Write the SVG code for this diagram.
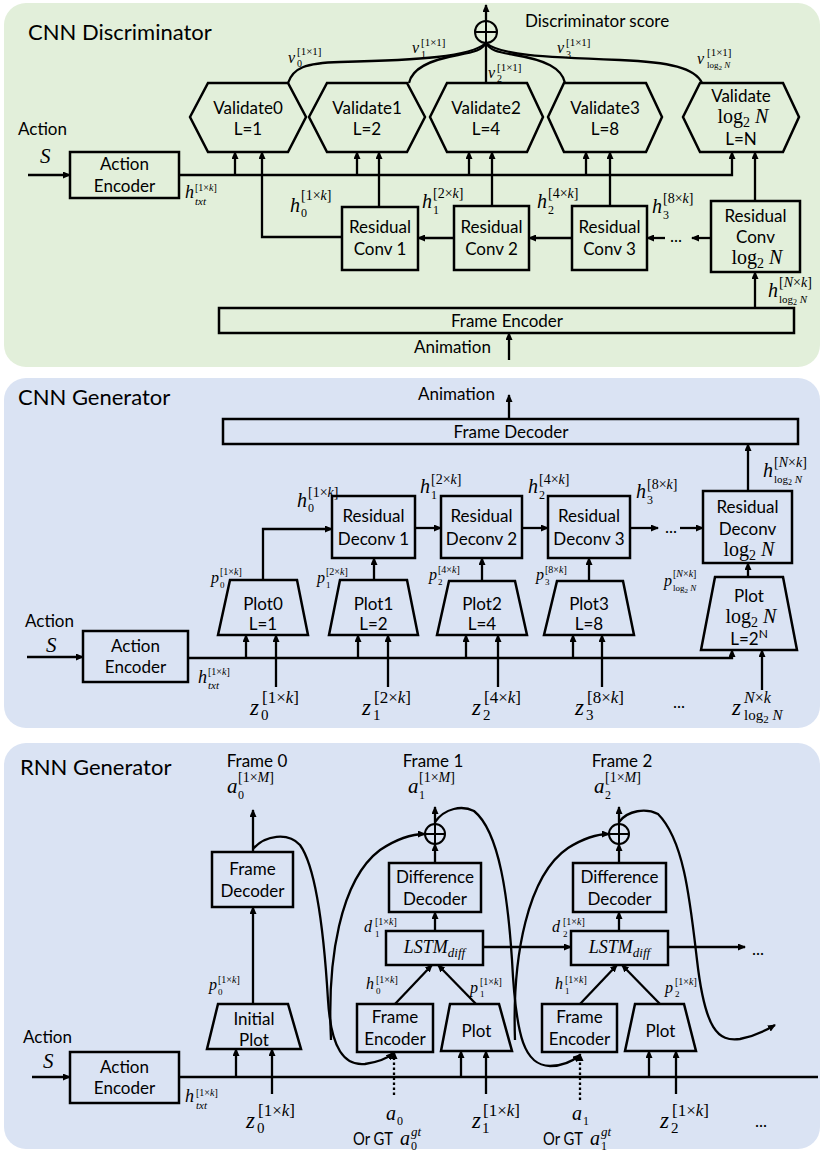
<svg xmlns="http://www.w3.org/2000/svg" width="823" height="1151" viewBox="0 0 823 1151">
<defs>
<style>
.pg{fill:#e2efda}
.pb{fill:#dae3f3}
.box{fill:none;stroke:#000;stroke-width:2.5}
.c{fill:none;stroke:#000;stroke-width:2.3}
.ar{marker-end:url(#ah)}
.dot{stroke-dasharray:2.5,2.5}
.t{font-family:Lato,"Liberation Sans",sans-serif;font-size:17px;text-anchor:middle;fill:#000}
.ts{font-family:Lato,"Liberation Sans",sans-serif;font-size:17px;fill:#000}
.ttl{font-family:Lato,"Liberation Sans",sans-serif;font-size:22px;fill:#000}
.m{font-family:"Liberation Serif",serif;font-style:italic;fill:#000}
.u{font-style:normal}
.lg{font-family:"Liberation Serif",serif;font-size:20px;text-anchor:middle;fill:#000}
</style>
<marker id="ah" viewBox="0 0 8 7" refX="7" refY="3.5" markerWidth="8" markerHeight="7" markerUnits="userSpaceOnUse" orient="auto"><path d="M0,0 L8,3.5 L0,7 z" fill="#000"/></marker>
</defs>

<!-- Panels -->
<rect class="pg" x="4" y="3" width="816" height="364" rx="22"/>
<rect class="pb" x="4" y="378" width="816" height="350" rx="22"/>
<rect class="pb" x="4" y="743" width="816" height="406" rx="22"/>
<text class="ttl" x="28" y="40">CNN Discriminator</text>
<text class="ttl" x="18" y="405">CNN Generator</text>
<text class="ttl" x="20" y="775">RNN Generator</text>

<!-- ===== Panel 1: CNN Discriminator ===== -->
<g id="d-sum">
<circle cx="486" cy="32" r="11" fill="none" stroke="#000" stroke-width="2"/>
<path d="M476,32 H496 M486,22 V42" stroke="#000" stroke-width="2"/>
<text class="ts" x="525" y="27" font-size="16">Discriminator score</text>
</g>
<g id="d-validate0"><polygon class="box" points="190,117 208,83 288,83 306,117 288,152 208,152"/><text class="t" x="248" y="114">Validate0</text><text class="t" x="248" y="135">L=1</text></g>
<g id="d-validate1"><polygon class="box" points="309,117 327,83 407,83 425,117 407,152 327,152"/><text class="t" x="367" y="114">Validate1</text><text class="t" x="367" y="135">L=2</text></g>
<g id="d-validate2"><polygon class="box" points="430,117 447,83 527,83 543,117 527,152 447,152"/><text class="t" x="486" y="114">Validate2</text><text class="t" x="486" y="135">L=4</text></g>
<g id="d-validate3"><polygon class="box" points="548,117 564,83 646,83 662,117 646,152 564,152"/><text class="t" x="605" y="114">Validate3</text><text class="t" x="605" y="135">L=8</text></g>
<g id="d-validateN"><polygon class="box" points="683,117 700,83 783,83 799,117 783,152 700,152"/><text class="t" x="741" y="102">Validate</text><text class="lg" x="743" y="123">log<tspan font-size="14" dy="4">2</tspan><tspan dy="-4" font-style="italic"> N</tspan></text><text class="t" x="741" y="145">L=N</text></g>
<g id="d-action-encoder"><rect class="box" x="70" y="152" width="109" height="46"/><text class="t" x="124.5" y="170">Action</text><text class="t" x="124.5" y="192">Encoder</text></g>
<g id="d-res1"><rect class="box" x="342" y="207" width="76" height="63"/><text class="t" x="380" y="233">Residual</text><text class="t" x="380" y="255">Conv 1</text></g>
<g id="d-res2"><rect class="box" x="454" y="206" width="75" height="64"/><text class="t" x="491.5" y="233">Residual</text><text class="t" x="491.5" y="255">Conv 2</text></g>
<g id="d-res3"><rect class="box" x="572" y="206" width="75" height="64"/><text class="t" x="609.5" y="233">Residual</text><text class="t" x="609.5" y="255">Conv 3</text></g>
<g id="d-resN"><rect class="box" x="711" y="201" width="89" height="71"/><text class="t" x="755.5" y="222">Residual</text><text class="t" x="755.5" y="243">Conv</text><text class="lg" x="757" y="264">log<tspan font-size="14" dy="4">2</tspan><tspan dy="-4" font-style="italic"> N</tspan></text></g>
<g id="d-frame-encoder"><rect class="box" x="219" y="308" width="575" height="25"/><text class="t" x="507" y="327">Frame Encoder</text></g>

<!-- ===== Panel 2: CNN Generator ===== -->
<g id="g-frame-decoder"><rect class="box" x="223" y="419" width="575" height="25"/><text class="t" x="511" y="438">Frame Decoder</text></g>
<g id="g-deconv1"><rect class="box" x="332" y="496" width="83" height="62"/><text class="t" x="373.5" y="522">Residual</text><text class="t" x="373.5" y="545">Deconv 1</text></g>
<g id="g-deconv2"><rect class="box" x="441" y="496" width="81" height="62"/><text class="t" x="481.5" y="522">Residual</text><text class="t" x="481.5" y="545">Deconv 2</text></g>
<g id="g-deconv3"><rect class="box" x="548" y="496" width="82" height="62"/><text class="t" x="589" y="522">Residual</text><text class="t" x="589" y="545">Deconv 3</text></g>
<g id="g-deconvN"><rect class="box" x="703" y="491" width="89" height="72"/><text class="t" x="747.5" y="513">Residual</text><text class="t" x="747.5" y="535">Deconv</text><text class="lg" x="749" y="556">log<tspan font-size="14" dy="4">2</tspan><tspan dy="-4" font-style="italic"> N</tspan></text></g>
<g id="g-plot0"><polygon class="box" points="230,580 297,580 308,635 218,635"/><text class="t" x="263" y="610">Plot0</text><text class="t" x="263" y="630">L=1</text></g>
<g id="g-plot1"><polygon class="box" points="340,580 407,580 418,635 329,635"/><text class="t" x="373.5" y="610">Plot1</text><text class="t" x="373.5" y="630">L=2</text></g>
<g id="g-plot2"><polygon class="box" points="449,581 515,581 527,635 437,635"/><text class="t" x="482" y="610">Plot2</text><text class="t" x="482" y="630">L=4</text></g>
<g id="g-plot3"><polygon class="box" points="557,581 623,581 634,635 544,635"/><text class="t" x="589" y="610">Plot3</text><text class="t" x="589" y="630">L=8</text></g>
<g id="g-plotN"><polygon class="box" points="715,577 783,577 797,650 701,650"/><text class="t" x="749" y="602">Plot</text><text class="lg" x="751" y="623">log<tspan font-size="14" dy="4">2</tspan><tspan dy="-4" font-style="italic"> N</tspan></text><text class="t" x="749" y="645">L=2<tspan font-size="12" dy="-7">N</tspan></text></g>
<g id="g-action-encoder"><rect class="box" x="83" y="631" width="105" height="51"/><text class="t" x="135.5" y="652">Action</text><text class="t" x="135.5" y="673">Encoder</text></g>

<!-- ===== Panel 3: RNN Generator ===== -->
<g id="r-frame-decoder"><rect class="box" x="212" y="852" width="81" height="55"/><text class="t" x="252.5" y="875">Frame</text><text class="t" x="252.5" y="897">Decoder</text></g>
<g id="r-initial-plot"><polygon class="box" points="218,1004 288,1004 301,1049 207,1049"/><text class="t" x="254" y="1025">Initial</text><text class="t" x="254" y="1046">Plot</text></g>
<g id="r-sum1"><circle cx="435" cy="834" r="10" fill="none" stroke="#000" stroke-width="2"/><path d="M426,834 H444 M435,825 V843" stroke="#000" stroke-width="2"/></g>
<g id="r-sum2"><circle cx="619" cy="834" r="10" fill="none" stroke="#000" stroke-width="2"/><path d="M610,834 H628 M619,825 V843" stroke="#000" stroke-width="2"/></g>
<g id="r-diffdec1"><rect class="box" x="389" y="863" width="92" height="49"/><text class="t" x="435" y="883">Difference</text><text class="t" x="435" y="905">Decoder</text></g>
<g id="r-diffdec2"><rect class="box" x="573" y="863" width="93" height="49"/><text class="t" x="619.5" y="883">Difference</text><text class="t" x="619.5" y="905">Decoder</text></g>
<g id="r-lstm1"><rect class="box" x="386" y="931" width="97" height="34"/><text class="m" x="434.5" y="953" font-size="18" text-anchor="middle">LSTM<tspan font-size="13" dy="4">diff</tspan></text></g>
<g id="r-lstm2"><rect class="box" x="571" y="931" width="97" height="34"/><text class="m" x="619.5" y="953" font-size="18" text-anchor="middle">LSTM<tspan font-size="13" dy="4">diff</tspan></text></g>
<g id="r-frame-encoder1"><rect class="box" x="357" y="1004" width="76" height="48"/><text class="t" x="395" y="1023">Frame</text><text class="t" x="395" y="1045">Encoder</text></g>
<g id="r-frame-encoder2"><rect class="box" x="542" y="1004" width="75" height="48"/><text class="t" x="579.5" y="1023">Frame</text><text class="t" x="579.5" y="1045">Encoder</text></g>
<g id="r-plot1"><polygon class="box" points="450,1004 499,1004 512,1051 441,1051"/><text class="t" x="476.5" y="1037">Plot</text></g>
<g id="r-plot2"><polygon class="box" points="635,1004 684,1004 696,1051 625,1051"/><text class="t" x="660.5" y="1037">Plot</text></g>
<g id="r-action-encoder"><rect class="box" x="70" y="1052" width="109" height="51"/><text class="t" x="124.5" y="1073">Action</text><text class="t" x="124.5" y="1094">Encoder</text></g>

<!-- ===== Connectors ===== -->
<g id="connectors">
<!-- panel 1 -->
<path class="c ar" d="M486,21 V5"/>
<path class="c" d="M288,83 C293,68 305,63 340,62 C420,60 470,57 486,43"/>
<path class="c" d="M409,83 C412,68 430,60 458,55 C475,52 482,50 486,43"/>
<path class="c" d="M486,83 V43"/>
<path class="c" d="M565,83 C562,68 545,60 515,55 C496,52 490,50 486,43"/>
<path class="c" d="M702,83 C695,68 670,62 620,60 C540,57 500,55 486,43"/>
<path class="c ar" d="M28,175 H70"/>
<path class="c ar" d="M179,175 H732 V152"/>
<path class="c ar" d="M235,175 V152"/>
<path class="c ar" d="M357,175 V152"/>
<path class="c ar" d="M469,175 V152"/>
<path class="c ar" d="M586,175 V152"/>
<path class="c ar" d="M342,237 H262 V152"/>
<path class="c ar" d="M379,207 V152"/>
<path class="c ar" d="M492,206 V152"/>
<path class="c ar" d="M610,206 V152"/>
<path class="c ar" d="M755,201 V152"/>
<path class="c ar" d="M454,238 H418"/>
<path class="c ar" d="M572,238 H529"/>
<path class="c ar" d="M665,238 H647"/>
<path class="c ar" d="M711,238 H692"/>
<path class="c ar" d="M755,308 V272"/>
<path class="c ar" d="M509,360 V333"/>
<!-- panel 2 -->
<path class="c ar" d="M509,419 V395"/>
<path class="c ar" d="M263,580 V529 H332"/>
<path class="c ar" d="M415,528 H441"/>
<path class="c ar" d="M522,528 H548"/>
<path class="c ar" d="M630,528 H658"/>
<path class="c ar" d="M680,528 H703"/>
<path class="c ar" d="M748,491 V444"/>
<path class="c ar" d="M374,580 V558"/>
<path class="c ar" d="M482,581 V558"/>
<path class="c ar" d="M589,581 V558"/>
<path class="c ar" d="M748,577 V563"/>
<path class="c ar" d="M27,657 H83"/>
<path class="c ar" d="M188,658 H732 V650"/>
<path class="c ar" d="M246,658 V635"/>
<path class="c ar" d="M358,658 V635"/>
<path class="c ar" d="M466,658 V635"/>
<path class="c ar" d="M573,658 V635"/>
<path class="c ar" d="M276,687 V635"/>
<path class="c ar" d="M388,687 V635"/>
<path class="c ar" d="M498,687 V635"/>
<path class="c ar" d="M602,687 V635"/>
<path class="c ar" d="M762,690 V650"/>
<!-- panel 3 -->
<path class="c ar" d="M253,852 V810"/>
<path class="c ar" d="M253,1004 V907"/>
<path class="c ar" d="M435,824 V807"/>
<path class="c ar" d="M619,824 V807"/>
<path class="c ar" d="M435,863 V844"/>
<path class="c ar" d="M619,863 V844"/>
<path class="c ar" d="M435,931 V912"/>
<path class="c ar" d="M619,931 V912"/>
<path class="c ar" d="M483,947 H571"/>
<path class="c ar" d="M668,947 H745"/>
<path class="c ar" d="M395,1004 L432,965"/>
<path class="c ar" d="M476,1004 L438,965"/>
<path class="c ar" d="M580,1004 L617,965"/>
<path class="c ar" d="M660,1004 L622,965"/>
<path class="c ar" d="M32,1077 H70"/>
<path class="c" d="M179,1077 H818"/>
<path class="c ar" d="M236,1077 V1049"/>
<path class="c ar" d="M461,1077 V1051"/>
<path class="c ar" d="M649,1077 V1051"/>
<path class="c ar" d="M272,1094 V1049"/>
<path class="c ar" d="M486,1094 V1051"/>
<path class="c ar" d="M676,1094 V1051"/>
<path class="c ar dot" d="M394,1095 V1052"/>
<path class="c ar dot" d="M580,1100 V1054"/>
<path class="c ar" d="M253,849 C265,835 288,832 300,845 C318,870 325,950 328,1000 C331,1050 345,1066 365,1064 C378,1062 388,1058 393,1053"/>
<path class="c ar" d="M331,1040 C327,960 340,880 380,850 C398,838 412,834 425,834"/>
<path class="c ar" d="M435,822 C445,808 462,805 474,811 C500,832 508,900 512,960 C516,1040 525,1065 550,1066 C565,1066 574,1060 580,1055"/>
<path class="c ar" d="M515,1040 C512,955 528,875 568,848 C584,838 598,834 609,834"/>
<path class="c ar" d="M619,822 C628,810 646,808 658,814 C684,840 690,900 697,960 C705,1030 718,1042 740,1039 C755,1036 765,1031 775,1025"/>
</g>

<!-- ===== Labels ===== -->
<g id="labels">
<text class="ts" x="18" y="135" font-size="20">Action</text>
<text class="m" x="40" y="163" font-size="21">S</text>
<text class="ts" x="670" y="242">...</text>
<text class="ts" x="414" y="353" font-size="16">Animation</text>
<text class="m" x="288" y="63" font-size="16">v</text><text class="m" x="297" y="55" font-size="11"><tspan class="u">[1×1]</tspan></text><text class="m u" x="297" y="67" font-size="10">0</text>
<text class="m" x="412" y="53" font-size="16">v</text><text class="m" x="421" y="46" font-size="11"><tspan class="u">[1×1]</tspan></text><text class="m u" x="421" y="58" font-size="10">1</text>
<text class="m" x="488" y="78" font-size="16">v</text><text class="m" x="497" y="71" font-size="11"><tspan class="u">[1×1]</tspan></text><text class="m u" x="497" y="82" font-size="10">2</text>
<text class="m" x="557" y="53" font-size="16">v</text><text class="m" x="566" y="46" font-size="11"><tspan class="u">[1×1]</tspan></text><text class="m u" x="566" y="58" font-size="10">3</text>
<text class="m" x="697" y="64" font-size="16">v</text><text class="m" x="707" y="56" font-size="11"><tspan class="u">[1×1]</tspan></text><text class="m" x="707" y="68" font-size="9"><tspan class="u">log</tspan><tspan class="u" font-size="7" dy="2">2</tspan><tspan dy="-2"> N</tspan></text>
<text class="m" x="185" y="198" font-size="18">h</text><text class="m" x="195" y="191" font-size="10"><tspan class="u">[1×</tspan>k<tspan class="u">]</tspan></text><text class="m" x="195" y="205" font-size="11">txt</text>
<text class="m" x="290" y="212" font-size="20">h</text><text class="m" x="301" y="200" font-size="14"><tspan class="u">[1×</tspan>k<tspan class="u">]</tspan></text><text class="m u" x="301" y="217" font-size="12">0</text>
<text class="m" x="422" y="208" font-size="20">h</text><text class="m" x="433" y="198" font-size="14"><tspan class="u">[2×</tspan>k<tspan class="u">]</tspan></text><text class="m u" x="433" y="214" font-size="12">1</text>
<text class="m" x="537" y="208" font-size="20">h</text><text class="m" x="548" y="198" font-size="14"><tspan class="u">[4×</tspan>k<tspan class="u">]</tspan></text><text class="m u" x="548" y="214" font-size="12">2</text>
<text class="m" x="652" y="213" font-size="20">h</text><text class="m" x="663" y="203" font-size="14"><tspan class="u">[8×</tspan>k<tspan class="u">]</tspan></text><text class="m u" x="663" y="219" font-size="12">3</text>
<text class="m" x="768" y="297" font-size="20">h</text><text class="m" x="779" y="287" font-size="14"><tspan class="u">[</tspan>N<tspan class="u">×</tspan>k<tspan class="u">]</tspan></text><text class="m" x="779" y="303" font-size="11"><tspan class="u">log</tspan><tspan class="u" font-size="8" dy="2">2</tspan><tspan dy="-2"> N</tspan></text>

<text class="ts" x="418" y="400" font-size="16">Animation</text>
<text class="ts" x="665" y="533">...</text>
<text class="ts" x="25" y="627" font-size="20">Action</text>
<text class="m" x="46" y="652" font-size="21">S</text>
<text class="m" x="297" y="507" font-size="20">h</text><text class="m" x="308" y="497" font-size="14"><tspan class="u">[1×</tspan>k<tspan class="u">]</tspan></text><text class="m u" x="308" y="512" font-size="12">0</text>
<text class="m" x="420" y="493" font-size="20">h</text><text class="m" x="431" y="484" font-size="14"><tspan class="u">[2×</tspan>k<tspan class="u">]</tspan></text><text class="m u" x="431" y="499" font-size="12">1</text>
<text class="m" x="528" y="493" font-size="20">h</text><text class="m" x="539" y="484" font-size="14"><tspan class="u">[4×</tspan>k<tspan class="u">]</tspan></text><text class="m u" x="539" y="499" font-size="12">2</text>
<text class="m" x="636" y="498" font-size="20">h</text><text class="m" x="647" y="489" font-size="14"><tspan class="u">[8×</tspan>k<tspan class="u">]</tspan></text><text class="m u" x="647" y="504" font-size="12">3</text>
<text class="m" x="763" y="477" font-size="20">h</text><text class="m" x="774" y="467" font-size="14"><tspan class="u">[</tspan>N<tspan class="u">×</tspan>k<tspan class="u">]</tspan></text><text class="m" x="774" y="483" font-size="11"><tspan class="u">log</tspan><tspan class="u" font-size="8" dy="2">2</tspan><tspan dy="-2"> N</tspan></text>
<text class="m" x="211" y="583" font-size="16">p</text><text class="m" x="220" y="575" font-size="10"><tspan class="u">[1×</tspan>k<tspan class="u">]</tspan></text><text class="m u" x="220" y="588" font-size="9">0</text>
<text class="m" x="317" y="583" font-size="16">p</text><text class="m" x="326" y="575" font-size="10"><tspan class="u">[2×</tspan>k<tspan class="u">]</tspan></text><text class="m u" x="326" y="588" font-size="9">1</text>
<text class="m" x="429" y="580" font-size="16">p</text><text class="m" x="438" y="573" font-size="10"><tspan class="u">[4×</tspan>k<tspan class="u">]</tspan></text><text class="m u" x="438" y="585" font-size="9">2</text>
<text class="m" x="536" y="580" font-size="16">p</text><text class="m" x="545" y="573" font-size="10"><tspan class="u">[8×</tspan>k<tspan class="u">]</tspan></text><text class="m u" x="545" y="585" font-size="9">3</text>
<text class="m" x="664" y="586" font-size="16">p</text><text class="m" x="673" y="577" font-size="10"><tspan class="u">[</tspan>N<tspan class="u">×</tspan>k<tspan class="u">]</tspan></text><text class="m" x="673" y="591" font-size="9"><tspan class="u">log</tspan><tspan class="u" font-size="7" dy="2">2</tspan><tspan dy="-2"> N</tspan></text>
<text class="m" x="198" y="683" font-size="18">h</text><text class="m" x="208" y="675" font-size="10"><tspan class="u">[1×</tspan>k<tspan class="u">]</tspan></text><text class="m" x="208" y="689" font-size="11">txt</text>
<text class="m" x="250" y="715" font-size="23">z</text><text class="m" x="262" y="703" font-size="17"><tspan class="u">[1×</tspan>k<tspan class="u">]</tspan></text><text class="m u" x="261" y="720" font-size="15">0</text>
<text class="m" x="362" y="715" font-size="23">z</text><text class="m" x="374" y="703" font-size="17"><tspan class="u">[2×</tspan>k<tspan class="u">]</tspan></text><text class="m u" x="373" y="720" font-size="15">1</text>
<text class="m" x="472" y="715" font-size="23">z</text><text class="m" x="484" y="703" font-size="17"><tspan class="u">[4×</tspan>k<tspan class="u">]</tspan></text><text class="m u" x="483" y="720" font-size="15">2</text>
<text class="m" x="575" y="715" font-size="23">z</text><text class="m" x="587" y="703" font-size="17"><tspan class="u">[8×</tspan>k<tspan class="u">]</tspan></text><text class="m u" x="586" y="720" font-size="15">3</text>
<text class="ts" x="673" y="708">...</text>
<text class="m" x="732" y="715" font-size="23">z</text><text class="m" x="744" y="703" font-size="16">N<tspan class="u">×</tspan>k</text><text class="m" x="744" y="720" font-size="15"><tspan class="u">log</tspan><tspan class="u" font-size="11" dy="3">2</tspan><tspan dy="-3"> N</tspan></text>

<text class="t" x="257" y="767" font-size="16">Frame 0</text>
<text class="t" x="433" y="767" font-size="16">Frame 1</text>
<text class="t" x="622" y="767" font-size="16">Frame 2</text>
<text class="ts" x="23" y="1043" font-size="20">Action</text>
<text class="m" x="43" y="1068" font-size="21">S</text>
<text class="ts" x="752" y="955">...</text>
<text class="ts" x="755" y="1127">...</text>
<text class="m" x="227" y="793" font-size="21">a</text><text class="m" x="238" y="782" font-size="14"><tspan class="u">[1×</tspan>M<tspan class="u">]</tspan></text><text class="m u" x="238" y="799" font-size="12">0</text>
<text class="m" x="408" y="793" font-size="21">a</text><text class="m" x="419" y="782" font-size="14"><tspan class="u">[1×</tspan>M<tspan class="u">]</tspan></text><text class="m u" x="419" y="799" font-size="12">1</text>
<text class="m" x="594" y="793" font-size="21">a</text><text class="m" x="605" y="782" font-size="14"><tspan class="u">[1×</tspan>M<tspan class="u">]</tspan></text><text class="m u" x="605" y="799" font-size="12">2</text>
<text class="m" x="364" y="932" font-size="16">d</text><text class="m" x="375" y="925" font-size="10"><tspan class="u">[1×</tspan>k<tspan class="u">]</tspan></text><text class="m u" x="375" y="937" font-size="9">1</text>
<text class="m" x="552" y="932" font-size="16">d</text><text class="m" x="563" y="925" font-size="10"><tspan class="u">[1×</tspan>k<tspan class="u">]</tspan></text><text class="m u" x="563" y="937" font-size="9">2</text>
<text class="m" x="366" y="989" font-size="16">h</text><text class="m" x="376" y="983" font-size="10"><tspan class="u">[1×</tspan>k<tspan class="u">]</tspan></text><text class="m u" x="376" y="994" font-size="9">0</text>
<text class="m" x="470" y="993" font-size="16">p</text><text class="m" x="480" y="985" font-size="10"><tspan class="u">[1×</tspan>k<tspan class="u">]</tspan></text><text class="m u" x="480" y="997" font-size="9">1</text>
<text class="m" x="555" y="989" font-size="16">h</text><text class="m" x="565" y="983" font-size="10"><tspan class="u">[1×</tspan>k<tspan class="u">]</tspan></text><text class="m u" x="565" y="994" font-size="9">1</text>
<text class="m" x="665" y="993" font-size="16">p</text><text class="m" x="675" y="985" font-size="10"><tspan class="u">[1×</tspan>k<tspan class="u">]</tspan></text><text class="m u" x="675" y="997" font-size="9">2</text>
<text class="m" x="209" y="990" font-size="16">p</text><text class="m" x="218" y="983" font-size="10"><tspan class="u">[1×</tspan>k<tspan class="u">]</tspan></text><text class="m u" x="218" y="995" font-size="9">0</text>
<text class="m" x="185" y="1102" font-size="18">h</text><text class="m" x="196" y="1096" font-size="10"><tspan class="u">[1×</tspan>k<tspan class="u">]</tspan></text><text class="m" x="196" y="1109" font-size="11">txt</text>
<text class="m" x="246" y="1128" font-size="23">z</text><text class="m" x="258" y="1116" font-size="17"><tspan class="u">[1×</tspan>k<tspan class="u">]</tspan></text><text class="m u" x="257" y="1133" font-size="15">0</text>
<text class="m" x="472" y="1128" font-size="23">z</text><text class="m" x="483" y="1116" font-size="17"><tspan class="u">[1×</tspan>k<tspan class="u">]</tspan></text><text class="m u" x="482" y="1133" font-size="15">1</text>
<text class="m" x="660" y="1128" font-size="23">z</text><text class="m" x="672" y="1116" font-size="17"><tspan class="u">[1×</tspan>k<tspan class="u">]</tspan></text><text class="m u" x="671" y="1133" font-size="15">2</text>
<text class="m" x="386" y="1120" font-size="20">a</text><text class="m u" x="397" y="1125" font-size="12">0</text>
<text class="ts" x="353" y="1145" font-size="16" textLength="40" lengthAdjust="spacingAndGlyphs">Or GT</text><text class="m" x="400" y="1145" font-size="20">a</text><text class="m" x="411" y="1136" font-size="13">gt</text><text class="m u" x="411" y="1150" font-size="12">0</text>
<text class="m" x="572" y="1120" font-size="20">a</text><text class="m u" x="583" y="1125" font-size="12">1</text>
<text class="ts" x="543" y="1145" font-size="16" textLength="40" lengthAdjust="spacingAndGlyphs">Or GT</text><text class="m" x="590" y="1145" font-size="20">a</text><text class="m" x="601" y="1136" font-size="13">gt</text><text class="m u" x="601" y="1150" font-size="12">1</text>
</g>
</svg>
